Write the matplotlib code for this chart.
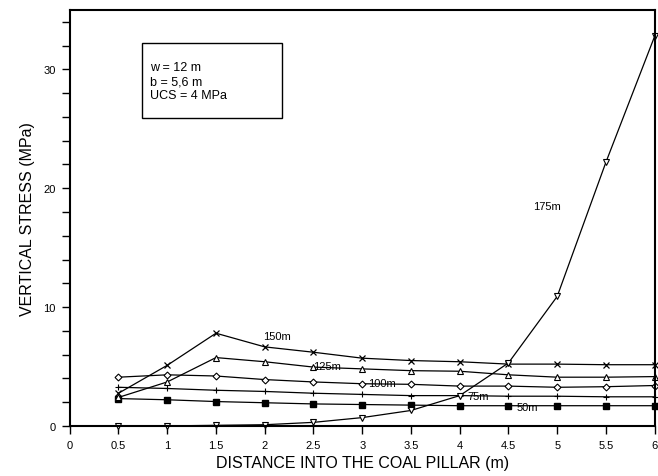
import numpy as np
import matplotlib.pyplot as plt
from matplotlib.patches import Rectangle
from matplotlib.ticker import MultipleLocator

plt.rcParams['font.family'] = ['Liberation Sans', 'DejaVu Sans']

distancia = [0.5, 1, 1.5, 2, 2.5, 3, 3.5, 4, 4.5, 5, 5.5, 6]
s50 = [2.3, 2.2, 2.05, 1.95, 1.85, 1.8, 1.75, 1.7, 1.7, 1.7, 1.7, 1.7]
s75 = [3.25, 3.15, 3.0, 2.9, 2.75, 2.65, 2.55, 2.55, 2.5, 2.5, 2.45, 2.45]
s100 = [4.1, 4.3, 4.2, 3.9, 3.7, 3.55, 3.5, 3.35, 3.35, 3.25, 3.3, 3.4]
s125 = [2.4, 3.7, 5.75, 5.4, 4.95, 4.8, 4.65, 4.6, 4.3, 4.1, 4.1, 4.15]
s150 = [2.75, 5.1, 7.8, 6.65, 6.2, 5.7, 5.5, 5.4, 5.2, 5.2, 5.15, 5.15]
s175 = [0, 0, 0.05, 0.1, 0.3, 0.7, 1.3, 2.55, 5.3, 10.9, 22.2, 32.8]

etiquetas_x = ['0', '0.5', '1', '1.5', '2', '2.5', '3', '3.5', '4', '4.5', '5', '5.5', '6']

fig = plt.figure(figsize=(6.58, 4.77), dpi=100)
ax = fig.add_axes([0.106, 0.105, 0.889, 0.872])

kw = dict(color='black', linewidth=0.9, clip_on=False)
ax.plot(distancia, s50, marker='s', markersize=5, markerfacecolor='black', **kw)
ax.plot(distancia, s75, marker='+', markersize=5, markeredgewidth=0.8, **kw)
ax.plot(distancia, s100, marker='D', markersize=3.5, markerfacecolor='white', markeredgewidth=0.8, **kw)
ax.plot(distancia, s125, marker='^', markersize=4.5, markerfacecolor='white', markeredgewidth=0.8, **kw)
ax.plot(distancia, s150, marker='x', markersize=5, markeredgewidth=0.9, **kw)
ax.plot(distancia, s175, marker='v', markersize=4.5, markerfacecolor='white', markeredgewidth=0.8, **kw)

# etiquetas de cada curva
ax.text(1.98, 7.6, '150m', fontsize=8, va='center')
ax.text(2.5, 5.0, '125m', fontsize=8, va='center')
ax.text(3.06, 3.6, '100m', fontsize=8, va='center')
ax.text(4.08, 2.55, '75m', fontsize=8, va='center')
ax.text(4.58, 1.55, '50m', fontsize=8, va='center')
ax.text(4.75, 18.5, '175m', fontsize=8, va='center')

# cuadro con los parametros
ax.add_patch(Rectangle((0.123, 0.740), 0.240, 0.181, transform=ax.transAxes,
                       facecolor='white', edgecolor='black', linewidth=1.0))
ax.text(0.138, 0.829, 'w = 12 m\nb = 5,6 m\nUCS = 4 MPa', transform=ax.transAxes,
        fontsize=9, va='center', linespacing=1.2)

ax.set_xlim(0, 6)
ax.set_ylim(0, 35)
ax.set_xticks(np.arange(0, 6.01, 0.5))
ax.set_xticklabels(etiquetas_x)
ax.set_yticks([0, 10, 20, 30])
ax.yaxis.set_minor_locator(MultipleLocator(2))
ax.tick_params(axis='both', which='both', direction='out', length=6, width=1,
               pad=4, labelsize=8)
for s in ax.spines.values():
    s.set_linewidth(1.5)

ax.set_xlabel('DISTANCE INTO THE COAL PILLAR (m)', fontsize=11.5, labelpad=4)
ax.set_ylabel('VERTICAL STRESS (MPa)', fontsize=11.5, labelpad=6)

plt.savefig('out.png', dpi=100)
